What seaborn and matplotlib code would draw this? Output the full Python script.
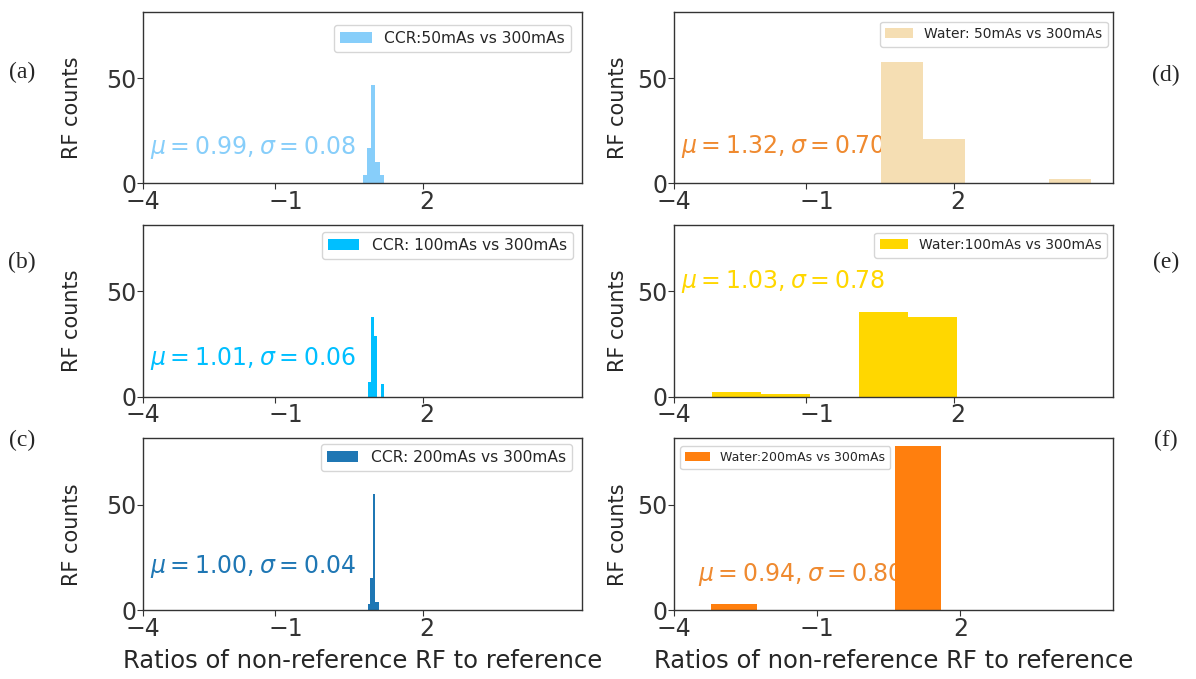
import matplotlib
matplotlib.use("Agg")
import matplotlib.pyplot as plt
import matplotlib.transforms as mtransforms
import numpy as np
import pandas as pd
import seaborn as sns

# ---------------- data ----------------
labels = ["CCR:50mAs vs 300mAs", "CCR: 100mAs vs 300mAs", "CCR: 200mAs vs 300mAs",
          "Water: 50mAs vs 300mAs", "Water:100mAs vs 300mAs", "Water:200mAs vs 300mAs"]
stats_text = [r"$\mu=0.99, \sigma=0.08$", r"$\mu=1.01, \sigma=0.06$", r"$\mu=1.00, \sigma=0.04$",
              r"$\mu=1.32, \sigma=0.70$", r"$\mu=1.03, \sigma=0.78$", r"$\mu=0.94, \sigma=0.80$"]
panel_tags = ["(a)", "(b)", "(c)", "(d)", "(e)", "(f)"]

edges_a = [0.78, 0.866, 0.952, 1.038, 1.124, 1.21]
counts_a = [4, 17, 47, 10, 4]
edges_b = [0.877, 0.944, 1.011, 1.078, 1.145, 1.212]
counts_b = [7, 38, 29, 0, 6]
edges_c = [0.89, 0.935, 0.98, 1.025, 1.07, 1.115]
counts_c = [3, 15, 55, 4, 4]
edges_d = [0.52, 1.37, 2.22, 3.07, 3.92, 4.77]
counts_d = [58, 21, 0, 0, 2]
edges_e = [-2.91, -1.916, -0.922, 0.072, 1.066, 2.06]
counts_e = [2, 1, 0, 40, 38]
edges_f = [-3.224, -2.26, -1.296, -0.332, 0.632, 1.596]
counts_f = [3, 0, 0, 0, 78]

x_tick_labels = ["\u22124", "\u22121", "2"]
y_ticks = [0, 50]

bar_colors = ["#87CEFA", "#00BFFF", "#1f77b4", "#F5DEB3", "#FFD700", "#ff7f0e"]
text_colors = ["#87CEFA", "#00BFFF", "#1f77b4", "#ef8a30", "#FFD700", "#ef8a30"]

all_edges = [edges_a, edges_b, edges_c, edges_d, edges_e, edges_f]
all_counts = [counts_a, counts_b, counts_c, counts_d, counts_e, counts_f]

# ---------------- styling ----------------
sns.set_style("ticks", {"axes.edgecolor": "0.2", "xtick.color": "0.2", "ytick.color": "0.2"})
plt.rcParams["font.family"] = ["DejaVu Sans"]
plt.rcParams["mathtext.fontset"] = "dejavusans"

fig = plt.figure(figsize=(11.96, 6.79), dpi=100)

W, H = 1196.0, 679.0
col_left = [143 / W, 674 / W]
ax_w = 439 / W
row_bottom = [1 - 183.5 / H, 1 - 396.5 / H, 1 - 610 / H]
ax_h = 172 / H

text_pos = [(-3.53, 14.2), (-3.53, 15.1), (-3.53, 17.4),
            (-3.53, 14.4), (-3.53, 51.7), (-3.50, 13.6)]
legend_fs = [11.2, 11.2, 11.2, 10, 10, 9]
legend_off = [(11, 13), (9, 7), (10, 6), (5, 10), (6, 8), (6, 8)]  # px from corner
tag_y = [72, 262, 440, 75, 262, 440]

for i in range(6):
    col = i // 3
    row = i % 3
    ax = fig.add_axes([col_left[col], row_bottom[row], ax_w, ax_h])
    edges = list(all_edges[i])
    counts = list(all_counts[i])
    centers = [(a + b) / 2 for a, b in zip(edges[:-1], edges[1:])]
    df = pd.DataFrame({"ratio": centers, "count": counts})
    sns.histplot(data=df, x="ratio", weights="count", bins=edges, ax=ax,
                 color=bar_colors[i], alpha=1.0, edgecolor="none", linewidth=0,
                 label=labels[i], zorder=2)

    if i == 5:
        xmin, xmax = -4.0, 5.2
    else:
        xmin, xmax = -3.67, 5.22
    ax.set_xlim(xmin, xmax)
    ax.set_ylim(0, 81.9)
    ax.set_xticks([xmin, -1, 2])
    ax.set_xticklabels(x_tick_labels)
    ax.set_yticks(y_ticks)
    ax.tick_params(axis="both", labelsize=17, length=4, width=0.8, pad=1)
    for s in ax.spines.values():
        s.set_linewidth(1.0)

    if i != 5:
        offs = [0, 11, 4]
        for lab, dx in zip(ax.get_xticklabels(), offs):
            lab.set_transform(lab.get_transform() +
                              mtransforms.ScaledTranslation(dx / 100, 0, fig.dpi_scale_trans))

    ax.set_ylabel("RF counts", fontsize=15)
    ax.yaxis.set_label_coords(-0.139 if col == 0 else -0.105, 0.44)
    if row == 2:
        ax.set_xlabel("Ratios of non-reference RF to reference", fontsize=17.5, labelpad=6)
    else:
        ax.set_xlabel("")

    tx, ty = text_pos[i]
    ax.text(tx, ty, stats_text[i], color=text_colors[i], fontsize=17, zorder=1,
            ha="left", va="baseline")

    dx, dy = legend_off[i]
    if i == 5:
        ax.legend(loc="upper left", bbox_to_anchor=(dx / 439, 1 - dy / 172),
                  borderaxespad=0, fontsize=legend_fs[i])
    else:
        ax.legend(loc="upper right", bbox_to_anchor=(1 - dx / 439, 1 - dy / 172),
                  borderaxespad=0, fontsize=legend_fs[i])

    tag_x = 22 if col == 0 else 1166
    fig.text(tag_x / W, 1 - tag_y[i] / H, panel_tags[i], ha="center", va="center",
             fontsize=17, family=["Liberation Serif", "DejaVu Serif"])

fig.savefig("out.png", dpi=100)
